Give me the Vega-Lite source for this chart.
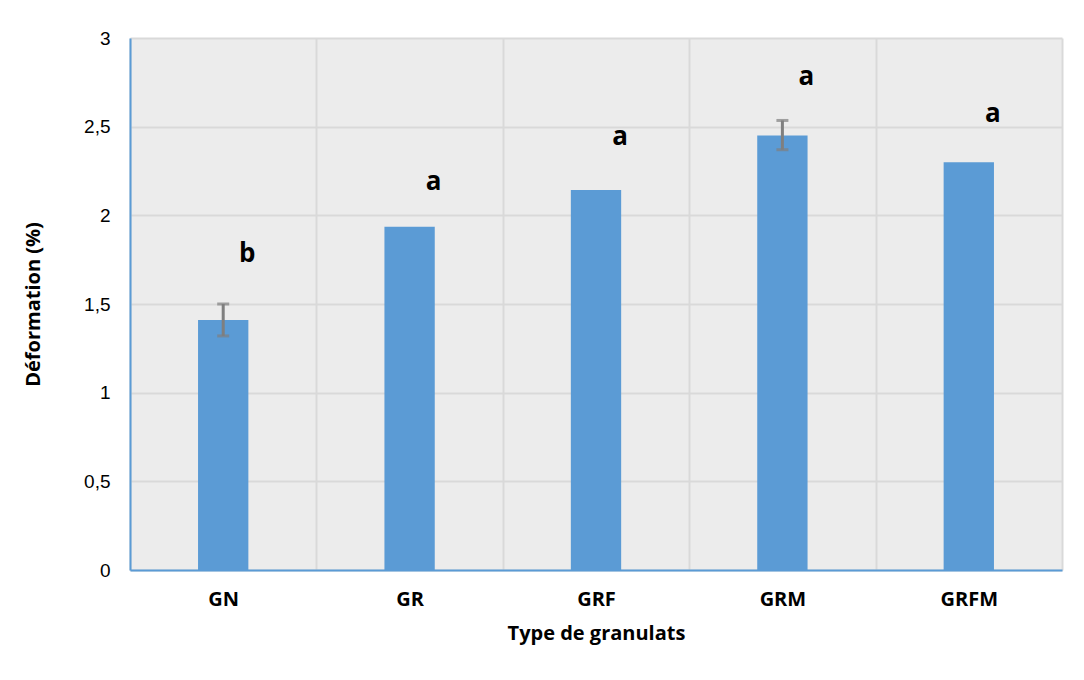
{
  "$schema": "https://vega.github.io/schema/vega-lite/v6.json",
  "autosize": {"type": "none"},
  "width": 932,
  "height": 532,
  "padding": {"left": 130, "top": 38, "right": 22, "bottom": 110},
  "background": "white",
  "config": {
    "view": {"fill": "#ececec", "stroke": null},
    "font": "Liberation Sans"
  },
  "data": {
    "values": [
      {"type": "GN", "value": 1.41, "err_lo": 1.32, "err_hi": 1.50, "sig": "b", "sig_y": 1.78},
      {"type": "GR", "value": 1.935, "err_lo": null, "err_hi": null, "sig": "a", "sig_y": 2.19},
      {"type": "GRF", "value": 2.143, "err_lo": null, "err_hi": null, "sig": "a", "sig_y": 2.44},
      {"type": "GRM", "value": 2.45, "err_lo": 2.37, "err_hi": 2.535, "sig": "a", "sig_y": 2.78},
      {"type": "GRFM", "value": 2.30, "err_lo": null, "err_hi": null, "sig": "a", "sig_y": 2.57}
    ]
  },
  "encoding": {
    "x": {
      "field": "type",
      "type": "nominal",
      "sort": null,
      "scale": {"paddingInner": 0, "paddingOuter": 0},
      "axis": {
        "title": "Type de granulats",
        "titleFont": "Open Sans",
        "titleFontSize": 20,
        "titleFontWeight": "bold",
        "titleColor": "black",
        "titlePadding": 14,
        "labelFont": "Open Sans",
        "labelFontSize": 20,
        "labelFontWeight": "bold",
        "labelColor": "black",
        "labelAngle": 0,
        "labelPadding": 19,
        "ticks": false,
        "tickBand": "extent",
        "grid": true,
        "gridColor": "#d9d9d9",
        "gridWidth": 2,
        "domain": true,
        "domainColor": "#5b9bd5",
        "domainWidth": 2
      }
    }
  },
  "layer": [
    {
      "mark": {"type": "bar", "color": "#5b9bd5", "width": {"band": 0.27}},
      "encoding": {
        "y": {
          "field": "value",
          "type": "quantitative",
          "scale": {"domain": [0, 3], "nice": false},
          "axis": {
            "title": "Déformation (%)",
            "titleFont": "Open Sans",
            "titleFontSize": 20,
            "titleFontWeight": "bold",
            "titleColor": "black",
            "titlePadding": 40,
            "values": [0, 0.5, 1, 1.5, 2, 2.5, 3],
            "labelExpr": "replace(toString(datum.value), '.', ',')",
            "labelFont": "Liberation Sans",
            "labelFontSize": 19,
            "labelColor": "black",
            "labelPadding": 20,
            "ticks": false,
            "grid": true,
            "gridColor": "#d9d9d9",
            "gridWidth": 2,
            "domain": true,
            "domainColor": "#5b9bd5",
            "domainWidth": 2
          }
        }
      }
    },
    {
      "mark": {"type": "rule", "color": "#7f7f7f", "strokeWidth": 3},
      "encoding": {
        "y": {"field": "err_lo", "type": "quantitative"},
        "y2": {"field": "err_hi"}
      }
    },
    {
      "mark": {"type": "tick", "color": "#7f7f7f", "orient": "horizontal", "size": 12, "thickness": 3},
      "encoding": {
        "y": {"field": "err_lo", "type": "quantitative"}
      }
    },
    {
      "mark": {"type": "tick", "color": "#7f7f7f", "orient": "horizontal", "size": 12, "thickness": 3},
      "encoding": {
        "y": {"field": "err_hi", "type": "quantitative"}
      }
    },
    {
      "mark": {"type": "text", "font": "Open Sans", "fontSize": 26, "fontWeight": "bold", "color": "black", "dx": 24},
      "encoding": {
        "y": {"field": "sig_y", "type": "quantitative"},
        "text": {"field": "sig"}
      }
    }
  ]
}
